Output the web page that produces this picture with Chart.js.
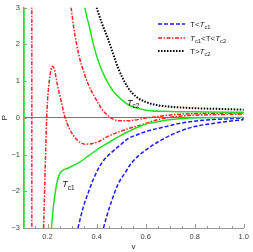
<!DOCTYPE html>
<html lang="en">
<head>
<meta charset="UTF-8">
<title>P-v isotherms</title>
<script src="https://cdn.jsdelivr.net/npm/chart.js"></script>
<style>
    html, body { margin: 0; padding: 0; background: #fff; }
    canvas { display: block; }
</style>
</head>
<body>
<canvas id="pvChart" width="253" height="252"></canvas>
<script>
    // T < Tc1 : two blue dashed branches
    const blueAV = [0.324, 0.345, 0.368, 0.39, 0.408, 0.43, 0.46, 0.5, 0.528, 0.57, 0.608, 0.676, 0.75, 0.85, 1.0];
    const blueAP = [-3.0, -2.45, -2.0, -1.62, -1.38, -1.15, -0.95, -0.72, -0.57, -0.45, -0.36, -0.25, -0.14, -0.06, -0.01];
    const blueBV = [0.428, 0.445, 0.46, 0.488, 0.516, 0.54, 0.568, 0.6, 0.65, 0.7, 0.75, 0.8, 0.89, 1.0];
    const blueBP = [-3.0, -2.6, -2.29, -1.8, -1.5, -1.25, -1.05, -0.88, -0.66, -0.48, -0.34, -0.24, -0.14, -0.05];

    // Tc1 < T < Tc2 : red dash-dot (wall + two branches)
    const redWallV = [0.136, 0.136];
    const redWallP = [-3.2, 3.2];
    const redAV = [0.184, 0.188, 0.192, 0.196, 0.2, 0.208, 0.22, 0.228, 0.24, 0.256, 0.268, 0.288, 0.32, 0.356, 0.408, 0.448, 0.528, 0.58, 0.65, 0.75, 0.85, 1.0];
    const redAP = [-3.0, -2.0, -1.0, -0.1, 0.45, 1.05, 1.4, 1.32, 0.9, 0.44, 0.09, -0.28, -0.6, -0.72, -0.65, -0.5, -0.3, -0.2, -0.05, 0.05, 0.08, 0.1];
    const redBV = [0.296, 0.308, 0.328, 0.348, 0.368, 0.396, 0.42, 0.448, 0.488, 0.53, 0.608, 0.728, 0.85, 1.0];
    const redBP = [3.0, 2.4, 1.7, 1.24, 0.88, 0.52, 0.25, 0.05, -0.08, -0.08, 0.0, 0.09, 0.12, 0.13];

    // critical isotherms Tc1 / Tc2 : green solid
    const greenWallV = [0.103, 0.103];
    const greenWallP = [-3.2, 3.2];
    const tc1V = [0.216, 0.222, 0.23, 0.24, 0.25, 0.262, 0.28, 0.3, 0.328, 0.368, 0.408, 0.448, 0.488, 0.528, 0.57, 0.608, 0.68, 0.75, 0.85, 1.0];
    const tc1P = [-3.0, -2.55, -2.1, -1.72, -1.52, -1.43, -1.38, -1.32, -1.22, -1.03, -0.84, -0.68, -0.52, -0.38, -0.25, -0.16, -0.07, -0.02, 0.0, 0.01];
    const tc2V = [0.352, 0.36, 0.368, 0.388, 0.408, 0.436, 0.468, 0.5, 0.528, 0.56, 0.608, 0.7, 0.8, 1.0];
    const tc2P = [3.0, 2.75, 2.55, 1.97, 1.52, 1.08, 0.72, 0.5, 0.36, 0.27, 0.2, 0.17, 0.16, 0.15];

    // T > Tc2 : black dotted
    const blackV = [0.4, 0.42, 0.448, 0.488, 0.528, 0.56, 0.6, 0.65, 0.7, 0.8, 0.9, 1.0];
    const blackP = [3.0, 2.6, 2.12, 1.35, 0.82, 0.58, 0.43, 0.34, 0.3, 0.26, 0.24, 0.22];

    const FONT = '"Liberation Sans", Arial, sans-serif';
    const BLUE = '#1a1aff', RED = '#ff2222', GREEN = '#22e022', BLACK = '#000000';

    function pts(xs, ys) {
        return xs.map((x, i) => ({ x: x, y: ys[i] }));
    }
    function curve(xs, ys, color, dash, width) {
        return {
            data: pts(xs, ys),
            borderColor: color,
            borderDash: dash,
            borderWidth: width,
            pointRadius: 0,
            fill: false,
            cubicInterpolationMode: xs[0] === xs[1] ? 'default' : 'monotone',
            tension: 0
        };
    }

    const dashBlue = [4, 2];
    const dashRed = [4, 1.5, 1.5, 1.5];
    const dashBlack = [1.5, 1.5];

    // T with a subscript, returns the x after drawing
    function subT(ctx, x, y, sub, size, italic) {
        ctx.font = (italic ? 'italic ' : '') + size + 'px ' + FONT;
        ctx.fillText('T', x, y);
        x += ctx.measureText('T').width;
        ctx.font = (size * 0.72) + 'px ' + FONT;
        ctx.fillText(sub, x, y + size * 0.28);
        return x + ctx.measureText(sub).width;
    }
    function plain(ctx, x, y, s, size) {
        ctx.font = size + 'px ' + FONT;
        ctx.fillText(s, x, y);
        return x + ctx.measureText(s).width;
    }

    const decorPlugin = {
        id: 'decor',
        afterDatasetsDraw(chart) {
            const ctx = chart.ctx;
            const xs = chart.scales.x, ys = chart.scales.y;
            const area = chart.chartArea;
            ctx.save();
            // inward tick marks
            ctx.strokeStyle = '#999';
            ctx.lineWidth = 1;
            xs.ticks.forEach(t => {
                const major = Math.abs(t.value * 5 - Math.round(t.value * 5)) < 1e-6;
                const px = Math.round(xs.getPixelForValue(t.value)) + 0.5;
                ctx.beginPath();
                ctx.moveTo(px, area.bottom);
                ctx.lineTo(px, area.bottom - (major ? 4 : 2));
                ctx.stroke();
            });
            ys.ticks.forEach(t => {
                const major = Math.abs(t.value - Math.round(t.value)) < 1e-6;
                const py = Math.round(ys.getPixelForValue(t.value)) + 0.5;
                ctx.beginPath();
                ctx.moveTo(area.left, py);
                ctx.lineTo(area.left + (major ? 4 : 2), py);
                ctx.stroke();
            });

            // curve labels
            ctx.fillStyle = '#111';
            ctx.textBaseline = 'alphabetic';
            subT(ctx, xs.getPixelForValue(0.524), ys.getPixelForValue(0.33), 'c2', 9, true);
            subT(ctx, xs.getPixelForValue(0.26), ys.getPixelForValue(-1.89), 'c1', 9, true);

            // legend
            const items = [
                { color: BLUE, dash: dashBlue, w: 1.5, y: 24, parts: [['p', 'T<'], ['t', 'c1']] },
                { color: RED, dash: dashRed, w: 1.5, y: 38, parts: [['t', 'c1'], ['p', '<T<'], ['t', 'c2']] },
                { color: BLACK, dash: dashBlack, w: 1.8, y: 51, parts: [['p', 'T>'], ['t', 'c2']] }
            ];
            items.forEach(it => {
                ctx.strokeStyle = it.color;
                ctx.lineWidth = it.w;
                ctx.setLineDash(it.dash);
                ctx.beginPath();
                ctx.moveTo(158, it.y);
                ctx.lineTo(185, it.y);
                ctx.stroke();
                ctx.setLineDash([]);
                ctx.fillStyle = '#222';
                let x = 190;
                it.parts.forEach(p => {
                    x = p[0] === 'p' ? plain(ctx, x, it.y + 3, p[1], 8) : subT(ctx, x, it.y + 3, p[1], 8, true);
                });
            });
            ctx.restore();
        }
    };

    new Chart(document.getElementById('pvChart').getContext('2d'), {
        type: 'line',
        data: {
            datasets: [
                curve(greenWallV, greenWallP, GREEN, [], 2),
                curve(blackV, blackP, BLACK, dashBlack, 2),
                curve(tc2V, tc2P, GREEN, [], 1.5),
                curve(tc1V, tc1P, GREEN, [], 1.5),
                curve(redWallV, redWallP, RED, dashRed, 1.5),
                curve(redAV, redAP, RED, dashRed, 1.5),
                curve(redBV, redBP, RED, dashRed, 1.5),
                curve(blueAV, blueAP, BLUE, dashBlue, 1.5),
                curve(blueBV, blueBP, BLUE, dashBlue, 1.5)
            ]
        },
        options: {
            responsive: false,
            animation: false,
            devicePixelRatio: 1,
            layout: { padding: { top: 4, right: 5, left: 0, bottom: 0 } },
            plugins: { legend: { display: false }, tooltip: { enabled: false } },
            scales: {
                x: {
                    type: 'linear',
                    min: 0.1,
                    max: 1.0,
                    afterFit: s => { s.height = 24; },
                    border: { color: '#999', width: 1 },
                    grid: { drawOnChartArea: false, drawTicks: false },
                    ticks: {
                        stepSize: 0.05,
                        autoSkip: false,
                        maxRotation: 0,
                        padding: 4,
                        color: '#444',
                        font: { size: 7.5, family: FONT },
                        callback: v => Math.abs(v * 5 - Math.round(v * 5)) < 1e-6 ? v.toFixed(1) : ''
                    },
                    title: { display: true, text: 'v', color: '#222', font: { size: 8, family: FONT }, padding: 0 }
                },
                y: {
                    min: -3,
                    max: 3,
                    afterFit: s => { s.width = 23; },
                    border: { color: '#999', width: 1 },
                    grid: {
                        drawTicks: false,
                        color: c => Math.abs(c.tick.value) < 1e-9 ? '#777' : 'rgba(0,0,0,0)',
                        lineWidth: 1
                    },
                    ticks: {
                        stepSize: 0.2,
                        autoSkip: false,
                        padding: 3,
                        color: '#444',
                        font: { size: 7.5, family: FONT },
                        callback: v => Math.abs(v - Math.round(v)) < 1e-6 ? String(Math.round(v)).replace('-', '\u2212') : ''
                    },
                    title: { display: true, text: 'P', color: '#222', font: { size: 8, family: FONT }, padding: 0 }
                }
            }
        },
        plugins: [decorPlugin]
    });
</script>
</body>
</html>
